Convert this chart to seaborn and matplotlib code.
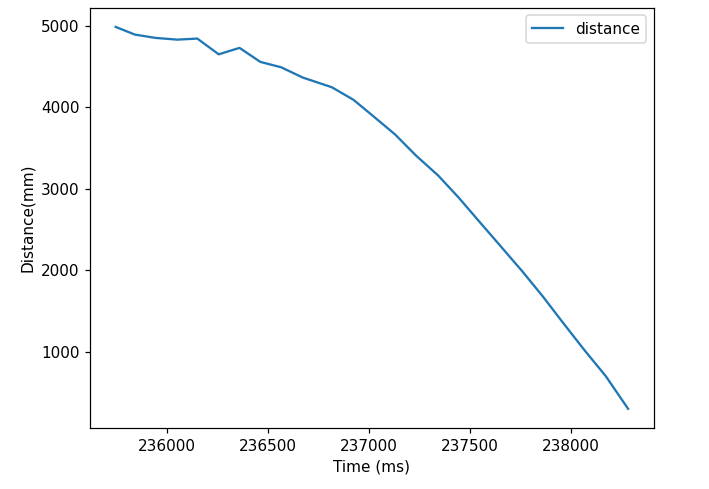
import matplotlib
matplotlib.use("Agg")
import matplotlib.pyplot as plt
import seaborn as sns
import pandas as pd

# readings taken off the reference chart
time_ms = [235748, 235843, 235946, 236053, 236152, 236258, 236361, 236464,
           236567, 236674, 236818, 236925, 237028, 237131, 237235, 237344,
           237447, 237551, 237655, 237759, 237862, 237966, 238070, 238174,
           238284]
distance_mm = [4984, 4890, 4849, 4828, 4841, 4648, 4727, 4555,
               4489, 4363, 4244, 4090, 3879, 3665, 3405, 3162,
               2887, 2587, 2290, 1991, 1679, 1343, 1014, 700,
               301]

df = pd.DataFrame({"time": time_ms, "distance": distance_mm})

dpi = 110
fig, ax = plt.subplots(figsize=(709 / dpi, 489 / dpi), dpi=dpi)
fig.subplots_adjust(left=0.127, right=0.922, top=0.984, bottom=0.125)

sns.lineplot(data=df, x="time", y="distance", ax=ax, label="distance",
             color="#1f77b4")
ax.set_xlabel("Time (ms)")
ax.set_ylabel("Distance(mm)")
ax.legend(loc="upper right")

fig.savefig("out.png", dpi=dpi)
